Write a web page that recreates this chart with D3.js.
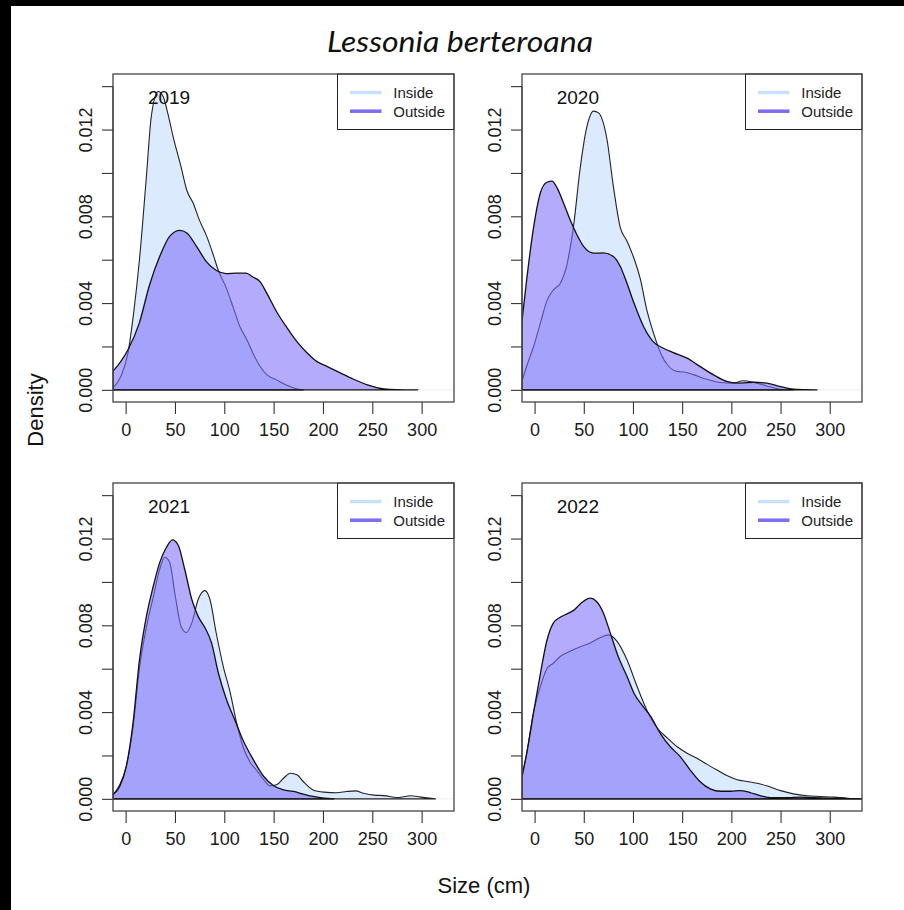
<!DOCTYPE html>
<html>
<head>
<meta charset="utf-8">
<script src="https://cdn.jsdelivr.net/npm/d3@7"></script>
<style>
  html, body { margin: 0; padding: 0; background: #fff; }
  svg { display: block; }
</style>
</head>
<body>
<svg id="chart" width="904" height="910"></svg>
<script>
// ---------------- DATA ----------------
const title = "Lessonia berteroana";
const years = ["2019", "2020", "2021", "2022"];
const seriesNames = ["Inside", "Outside"];
const xTicks = [0, 50, 100, 150, 200, 250, 300];
const yTicks = [0, 0.002, 0.004, 0.006, 0.008, 0.010, 0.012, 0.014];
const yLabelTicks = [0, 0.004, 0.008, 0.012];
const xLabel = "Size (cm)";
const yLabel = "Density";

// [size, density] pairs
const inside2019 = [[-13,0.00008],[-5,0.0006],[2.4,0.0017],[8,0.0035],[14,0.0060],[21,0.0098],[26,0.0126],[33,0.01375],[38,0.01352],[43,0.0127],[48,0.0117],[56.6,0.0102],[62,0.0092],[68.5,0.0086],[75,0.0078],[82,0.0071],[89,0.0062],[94,0.0055],[102,0.0047],[109,0.0038],[116,0.0029],[123,0.0023],[130,0.0016],[136,0.0011],[143,0.0007],[153,0.00046],[163,0.00022],[172,0.00006],[180,0.0]];
const outside2019 = [[-13,0.00085],[-5,0.0013],[2.4,0.00185],[14,0.0031],[24,0.0048],[35,0.0062],[45,0.0071],[55,0.00735],[62,0.00723],[72,0.0066],[82,0.0059],[92,0.0055],[102,0.00536],[112,0.00538],[122,0.00538],[129,0.0052],[136,0.0050],[143,0.00446],[153,0.0036],[163,0.0029],[174,0.0022],[184,0.0017],[194,0.0013],[204,0.00108],[218,0.00077],[231,0.00049],[245,0.00023],[262,0.00004],[275,0.00001],[296,0.0]];
const inside2020 = [[-13,0.00038],[-8,0.0011],[-1,0.0020],[6,0.0031],[12.5,0.0041],[19,0.0046],[26,0.0049],[33,0.0058],[40,0.0077],[46,0.0101],[53,0.0121],[60,0.01285],[65,0.01277],[73.6,0.01154],[80,0.0094],[87,0.0075],[94,0.00685],[100.7,0.0061],[107.5,0.0051],[114,0.0037],[121,0.0026],[128,0.0017],[136,0.0011],[145,0.00085],[152,0.00082],[162,0.00069],[175,0.00049],[189,0.00034],[202,0.00031],[212,0.00042],[223,0.00034],[236,0.00018],[250,0.00003],[263,0.0]];
const outside2020 = [[-13,0.0031],[-8,0.0051],[-1,0.0075],[6,0.0091],[12.5,0.00957],[17.6,0.00962],[23,0.0093],[29.5,0.0086],[36,0.00785],[43,0.00715],[50,0.0066],[60,0.0063],[70,0.00631],[80,0.00615],[87,0.0057],[94,0.0049],[101,0.0040],[111,0.0029],[121,0.0022],[131,0.00192],[141,0.00172],[155,0.00146],[168,0.00108],[182,0.00069],[196,0.00038],[209,0.00031],[223,0.00035],[236,0.00031],[250,0.00015],[263,0.00003],[287,0.0]];
const inside2021 = [[-13,0.00018],[-6,0.00065],[0.7,0.0015],[7.5,0.0033],[14,0.0060],[21,0.0079],[28,0.0093],[34.6,0.0106],[39.7,0.01114],[44.7,0.0109],[49.8,0.0095],[56.6,0.0079],[61.7,0.00767],[67,0.0081],[73.6,0.0092],[80.3,0.0096],[85.4,0.0092],[92,0.0076],[99,0.0061],[106,0.0049],[112.5,0.0035],[119,0.0024],[126,0.0017],[133,0.0013],[140,0.00088],[146,0.0006],[153,0.00065],[160,0.00095],[167,0.00118],[174,0.0011],[180,0.0008],[190,0.00041],[201,0.00031],[214,0.00028],[224,0.00034],[233,0.00037],[241,0.00026],[252,0.00017],[262,0.00015],[275,0.00006],[289,0.00014],[299,0.00008],[314,0.0]];
const outside2021 = [[-13,0.00018],[-6,0.00057],[0.7,0.0015],[7.5,0.0035],[14,0.0064],[21,0.0084],[28,0.0098],[34.6,0.0109],[41.4,0.0116],[47.5,0.01194],[53.2,0.0117],[60,0.01056],[67,0.0092],[73.6,0.0084],[80.3,0.0079],[87,0.0072],[94,0.0058],[102,0.0046],[111,0.0036],[119,0.0027],[129.5,0.0018],[140,0.00103],[150,0.0006],[160,0.00041],[170,0.00034],[180,0.00022],[190,0.00011],[201,0.00003],[211,0.0]];
const inside2022 = [[-13,0.00088],[-8,0.0021],[-1,0.0040],[6,0.0052],[12.5,0.0060],[19,0.00625],[26,0.00656],[36,0.0068],[46,0.0070],[57,0.0072],[67,0.00744],[75,0.00756],[84,0.00725],[94,0.0064],[104,0.0052],[114,0.0041],[124,0.0033],[135,0.0028],[145,0.0024],[155,0.0021],[165,0.00187],[175,0.0016],[185,0.00134],[196,0.00106],[206,0.00088],[216,0.0008],[226,0.00072],[236,0.0006],[250,0.00038],[263,0.00023],[277,0.00014],[290,0.00011],[304,0.00008],[318,0.00003],[333,0.0]];
const outside2022 = [[-13,0.00103],[-8,0.0021],[-1,0.0040],[6,0.0058],[12.5,0.0073],[19,0.0081],[26,0.00837],[33,0.00853],[40,0.0087],[48,0.00905],[56.6,0.00925],[63,0.0091],[70,0.00856],[77,0.00764],[85,0.00656],[94,0.00564],[101,0.00487],[109,0.00433],[118,0.0038],[128,0.0030],[138,0.0024],[148,0.00195],[158,0.00134],[168,0.0008],[179,0.00045],[189,0.00035],[199,0.00035],[209,0.00038],[219,0.00029],[230,0.00014],[240,0.00005],[257,0.00005],[270,0.00008],[284,0.00005],[297,0.00003],[333,0.0]];

const insideSeries = [inside2019, inside2020, inside2021, inside2022];
const outsideSeries = [outside2019, outside2020, outside2021, outside2022];

// ---------------- STYLE / LAYOUT ----------------
const insideFill = "#dbeafc";
const outsideFill = "rgba(125,110,250,0.58)";
const insideLegend = "#c6e2fc";
const outsideLegend = "#7d6cf2";
const cols = [[113, 454], [522, 862]];
const rows = [[74, 402], [483, 811]];
const xDomain = [-12.8, 332.8];
const yDomain = [-0.00056, 0.01456];
const fontMain = "'Liberation Sans', Arial, Helvetica, sans-serif";

const svg = d3.select("#chart");
svg.append("rect").attr("x", 0).attr("y", 0).attr("width", 904).attr("height", 910).attr("fill", "#fff");
// black frame edges seen in the picture
svg.append("rect").attr("x", 0).attr("y", 0).attr("width", 904).attr("height", 6).attr("fill", "#000");
svg.append("rect").attr("x", 0).attr("y", 0).attr("width", 11).attr("height", 910).attr("fill", "#000");

svg.append("text")
  .attr("x", 460).attr("y", 52)
  .attr("text-anchor", "middle")
  .attr("font-family", "Lato, 'Open Sans', sans-serif")
  .attr("font-style", "italic")
  .attr("font-size", 29)
  .attr("fill", "#111")
  .attr("textLength", 266)
  .attr("lengthAdjust", "spacingAndGlyphs")
  .text(title);

svg.append("text")
  .attr("transform", "translate(43,410) rotate(-90)")
  .attr("text-anchor", "middle")
  .attr("font-family", fontMain)
  .attr("font-size", 22)
  .attr("fill", "#111")
  .text(yLabel);

svg.append("text")
  .attr("x", 484).attr("y", 893)
  .attr("text-anchor", "middle")
  .attr("font-family", fontMain)
  .attr("font-size", 22)
  .attr("fill", "#111")
  .text(xLabel);

years.forEach((yr, i) => {
  const [x0, x1] = cols[i % 2];
  const [y0, y1] = rows[Math.floor(i / 2)];
  const x = d3.scaleLinear().domain(xDomain).range([x0, x1]);
  const y = d3.scaleLinear().domain(yDomain).range([y1, y0]);
  const g = svg.append("g");

  const clipId = "clip" + i;
  svg.append("clipPath").attr("id", clipId)
    .append("rect").attr("x", x0).attr("y", y0).attr("width", x1 - x0).attr("height", y1 - y0);

  const plot = g.append("g").attr("clip-path", `url(#${clipId})`);

  // faint baseline
  plot.append("line")
    .attr("x1", x0).attr("x2", x1).attr("y1", y(0)).attr("y2", y(0))
    .attr("stroke", "#eeeeee").attr("stroke-width", 1);

  const area = d3.area()
    .x(d => x(d[0])).y0(y(0)).y1(d => y(d[1]))
    .curve(d3.curveMonotoneX);

  const outline = pts => {
    const l = d3.line().x(d => x(d[0])).y(d => y(d[1])).curve(d3.curveMonotoneX)(pts);
    const first = pts[0], last = pts[pts.length - 1];
    return l + `L${x(last[0])},${y(0)}L${x(first[0])},${y(0)}Z`;
  };

  plot.append("path").attr("d", area(insideSeries[i])).attr("fill", insideFill).attr("stroke", "none");
  plot.append("path").attr("d", outline(insideSeries[i])).attr("fill", "none")
    .attr("stroke", "#222").attr("stroke-width", 1.1).attr("stroke-linejoin", "round");
  plot.append("path").attr("d", area(outsideSeries[i])).attr("fill", outsideFill).attr("stroke", "none");
  plot.append("path").attr("d", outline(outsideSeries[i])).attr("fill", "none")
    .attr("stroke", "#111").attr("stroke-width", 1.3).attr("stroke-linejoin", "round");

  // year label
  g.append("text")
    .attr("x", x(44)).attr("y", y(0.0135)).attr("dy", "0.36em")
    .attr("text-anchor", "middle")
    .attr("font-family", fontMain).attr("font-size", 19).attr("fill", "#111")
    .text(yr);

  // legend
  const lg = g.append("g");
  lg.append("rect")
    .attr("x", x1 - 116.5).attr("y", y0).attr("width", 116.5).attr("height", 55.5)
    .attr("fill", "#fff").attr("stroke", "#222").attr("stroke-width", 1);
  seriesNames.forEach((nm, k) => {
    const ly = y0 + 18.5 + k * 18.7;
    lg.append("line")
      .attr("x1", x1 - 104).attr("x2", x1 - 72.5).attr("y1", ly).attr("y2", ly)
      .attr("stroke", k === 0 ? insideLegend : outsideLegend).attr("stroke-width", 3.5);
    lg.append("text")
      .attr("x", x1 - 60.7).attr("y", ly).attr("dy", "0.36em")
      .attr("font-family", fontMain).attr("font-size", 15).attr("fill", "#222")
      .text(nm);
  });

  // axes
  const xAxis = d3.axisBottom(x).tickValues(xTicks).tickSize(12).tickPadding(9).tickFormat(d3.format("d"));
  const gx = g.append("g").attr("transform", `translate(0,${y1})`).call(xAxis);
  gx.select(".domain").remove();
  gx.selectAll("line").attr("stroke", "#333").attr("stroke-width", 1.1);
  gx.selectAll("text").attr("font-family", fontMain).attr("font-size", 18).attr("fill", "#1a1a1a");

  const yAxis = d3.axisLeft(y).tickValues(yTicks).tickSize(11)
    .tickFormat(d => yLabelTicks.some(v => Math.abs(v - d) < 1e-9) ? d3.format(".3f")(d) : "");
  const gy = g.append("g").attr("transform", `translate(${x0},0)`).call(yAxis);
  gy.select(".domain").remove();
  gy.selectAll("line").attr("stroke", "#333").attr("stroke-width", 1.1);
  gy.selectAll("text")
    .attr("x", null).attr("dy", null)
    .attr("transform", "translate(-21,0) rotate(-90)")
    .attr("text-anchor", "middle")
    .attr("font-family", fontMain).attr("font-size", 18).attr("fill", "#1a1a1a");
  gy.append("line").attr("x1", 0).attr("x2", 0).attr("y1", y(0)).attr("y2", y(0.014))
    .attr("stroke", "#333").attr("stroke-width", 1.1);

  // box
  g.append("rect")
    .attr("x", x0).attr("y", y0).attr("width", x1 - x0).attr("height", y1 - y0)
    .attr("fill", "none").attr("stroke", "#444").attr("stroke-width", 1.3);
});
</script>
</body>
</html>
